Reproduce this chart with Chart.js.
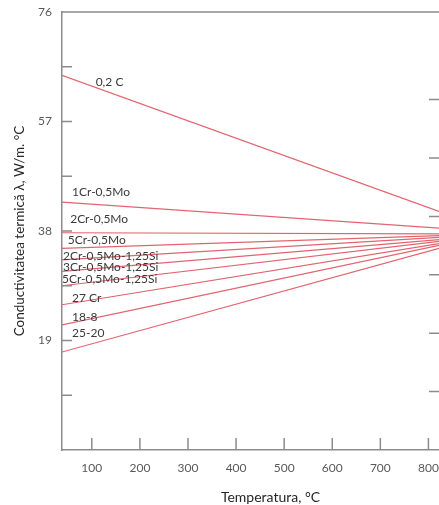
<!DOCTYPE html>
<html>
<head>
<meta charset="utf-8">
<script src="https://cdn.jsdelivr.net/npm/chart.js@4.4.1/dist/chart.umd.min.js"></script>
<style>
  html, body { margin: 0; padding: 0; background: #fff; overflow: hidden; }
  canvas { display: block; }
</style>
</head>
<body>
<canvas id="chart" width="439" height="505"></canvas>
<script>
// Thermal conductivity of steels vs temperature
const alloys = [
  '0,2 C', '1Cr-0,5Mo', '2Cr-0,5Mo', '5Cr-0,5Mo',
  '2Cr-0,5Mo-1,25Si', '3Cr-0,5Mo-1,25Si', '5Cr-0,5Mo-1,25Si',
  '27 Cr', '18-8', '25-20'
];
const temperatures = [38, 822];                       // °C, ends of each line
const lambdaLow  = [65.0, 43.0, 37.7, 35.0, 33.0, 31.0, 28.5, 25.2, 21.7, 17.0];
const lambdaHigh = [41.4, 38.5, 37.5, 37.2, 36.9, 36.5, 36.2, 35.8, 35.5, 35.0];

const xTicks = [100, 200, 300, 400, 500, 600, 700, 800];
const yTicks = [0, 9.5, 19, 28.5, 38, 47.5, 57, 66.5, 76];
const yLabelled = [19, 38, 57, 76];
const rightTicks = [1, 2, 3, 4, 5, 6];

// where each curve name sits (temperature, conductivity)
const labelTemps   = [108, 59, 55, 50, 40, 40, 38, 59, 59, 59];
const labelLambdas = [63.8, 44.7, 40.0, 36.5, 33.6, 31.7, 29.7, 26.4, 23.0, 20.2];

const AXIS = '#8c8c8c';
const LINE = '#e2646f';

const datasets = alloys.map((name, i) => ({
  label: name,
  data: temperatures.map((t, j) => ({ x: t, y: j === 0 ? lambdaLow[i] : lambdaHigh[i] })),
  borderColor: LINE,
  borderWidth: 1.2,
  pointRadius: 0,
  tension: 0,
  fill: false
}));

const frame = {
  id: 'frame',
  afterDatasetsDraw(chart) {
    const { ctx, chartArea: a, scales: { x, y, y2 } } = chart;
    ctx.save();
    ctx.strokeStyle = AXIS;
    ctx.lineWidth = 1.5;
    ctx.beginPath();
    ctx.moveTo(a.left, a.top);
    ctx.lineTo(a.right + 2, a.top);
    yTicks.filter(v => v > 0 && v < 76).forEach(v => {
      const p = y.getPixelForValue(v);
      ctx.moveTo(a.left, p); ctx.lineTo(a.left + 10, p);
    });
    xTicks.forEach(v => {
      const p = x.getPixelForValue(v);
      ctx.moveTo(p, a.bottom); ctx.lineTo(p, a.bottom - 12);
    });
    rightTicks.forEach(v => {
      const p = y2.getPixelForValue(v);
      ctx.moveTo(a.right - 10, p); ctx.lineTo(a.right, p);
    });
    ctx.stroke();

    ctx.font = '12px Lato';
    ctx.fillStyle = '#3a3a3a';
    ctx.textAlign = 'left';
    ctx.textBaseline = 'middle';
    alloys.forEach((name, i) => {
      ctx.fillText(name, x.getPixelForValue(labelTemps[i]), y.getPixelForValue(labelLambdas[i]));
    });

    ctx.font = '14px Lato';
    ctx.fillStyle = '#262626';
    ctx.textAlign = 'center';
    ctx.fillText('Temperatura, °C', (a.left + a.right) / 2 + 20, a.bottom + 47);
    ctx.restore();
  }
};

new Chart(document.getElementById('chart'), {
  type: 'line',
  data: { datasets },
  options: {
    responsive: false,
    animation: false,
    events: [],
    layout: { padding: { top: 12, right: -2, left: 0, bottom: 0 } },
    plugins: { legend: { display: false }, tooltip: { enabled: false } },
    scales: {
      x: {
        type: 'linear',
        min: temperatures[0],
        max: temperatures[1],
        afterBuildTicks: s => { s.ticks = xTicks.map(v => ({ value: v })); },
        afterFit: s => { s.height = 55; s.paddingLeft = 0; s.paddingRight = 0; },
        grid: { display: false, drawTicks: false },
        border: { display: true, color: AXIS, width: 1.5 },
        ticks: { padding: 11, color: '#595959', font: { family: 'Lato', size: 12 } },
        title: { display: false }
      },
      y: {
        type: 'linear',
        min: 0,
        max: 76,
        afterBuildTicks: s => { s.ticks = yTicks.map(v => ({ value: v })); },
        afterFit: s => { s.width = 62; s.paddingTop = 0; s.paddingBottom = 0; },
        grid: { display: false, drawTicks: false },
        border: { display: true, color: AXIS, width: 1.5 },
        ticks: {
          padding: 10,
          color: '#595959',
          font: { family: 'Lato', size: 12 },
          callback: v => (yLabelled.includes(v) ? String(v) : '')
        },
        title: {
          display: true,
          text: 'Conductivitatea termică λ, W/m. °C',
          color: '#262626',
          font: { family: 'Lato', size: 13.5 },
          padding: { top: 12, bottom: 0 }
        }
      },
      y2: {
        type: 'linear',
        position: 'right',
        display: false,
        min: 0,
        max: 7.5
      }
    }
  },
  plugins: [frame]
});
</script>
</body>
</html>
